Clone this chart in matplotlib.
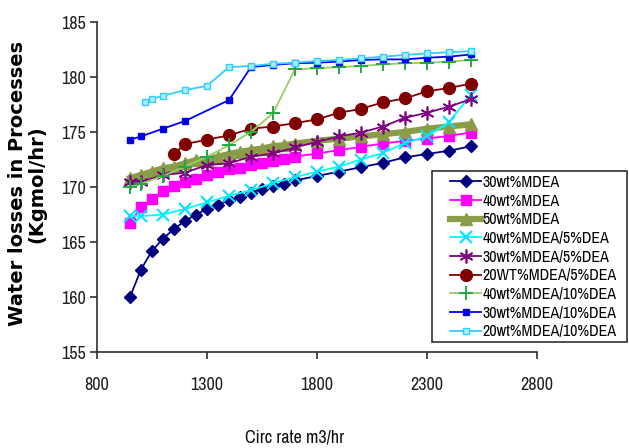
import matplotlib
matplotlib.use("Agg")
import matplotlib.pyplot as plt
from matplotlib.patches import Rectangle

# ---------------- data ----------------
x_full = [950, 1000, 1050, 1100, 1150, 1200, 1250, 1300, 1350, 1400, 1450, 1500,
          1550, 1600, 1650, 1700, 1800, 1900, 2000, 2100, 2200, 2300, 2400, 2500]
x_sparse = [950, 1000, 1100, 1200, 1300, 1400, 1500, 1600, 1700, 1800, 1900,
            2000, 2100, 2200, 2300, 2400, 2500]
x_20wt5 = [1150, 1200, 1300, 1400, 1500, 1600, 1700, 1800, 1900, 2000, 2100,
           2200, 2300, 2400, 2500]
x_30wt10 = [950, 1000, 1100, 1200, 1400, 1500, 1600, 1700, 1800, 1900, 2000,
            2100, 2200, 2300, 2400, 2500]
x_20wt10 = [1020, 1050, 1100, 1200, 1300, 1400, 1500, 1600, 1700, 1800, 1900,
            2000, 2100, 2200, 2300, 2400, 2500]

y_30mdea = [160.0, 162.5, 164.2, 165.3, 166.2, 166.9, 167.5, 168.0, 168.4, 168.8,
            169.1, 169.5, 169.8, 170.1, 170.3, 170.6, 171.0, 171.4, 171.8, 172.2,
            172.7, 173.0, 173.3, 173.7]
y_40mdea = [166.7, 168.2, 168.9, 169.6, 170.1, 170.5, 170.7, 171.1, 171.4, 171.6,
            171.75, 172.0, 172.2, 172.4, 172.55, 172.75, 173.05, 173.35, 173.65,
            173.95, 174.2, 174.4, 174.65, 174.95]
y_50mdea = [170.8, 171.1, 171.4, 171.7, 171.85, 172.15, 172.45, 172.5, 172.75, 173.0,
            173.2, 173.35, 173.5, 173.7, 173.8, 173.95, 174.2, 174.4, 174.6, 174.8,
            175.0, 175.3, 175.5, 175.7]
y_40mdea5dea = [167.4, 167.35, 167.5, 168.0, 168.6, 169.2, 169.7, 170.35, 170.9,
                171.4, 171.85, 172.5, 173.1, 174.0, 174.6, 175.9, 178.4]
y_30mdea5dea = [170.5, 170.45, 171.1, 171.3, 172.0, 172.15, 172.75, 173.05, 173.6,
                174.1, 174.6, 174.95, 175.5, 176.3, 176.75, 177.3, 178.0]
y_20mdea5dea = [173.0, 173.9, 174.3, 174.7, 175.3, 175.5, 175.8, 176.15, 176.75,
                177.1, 177.7, 178.05, 178.7, 179.0, 179.4]
y_40mdea10dea = [170.0, 170.3, 171.0, 171.85, 172.75, 173.8, 175.0, 176.7, 180.7,
                 180.8, 180.9, 181.0, 181.15, 181.25, 181.3, 181.4, 181.55]
y_30mdea10dea = [174.3, 174.6, 175.3, 176.0, 177.9, 180.9, 181.1, 181.25, 181.3,
                 181.4, 181.55, 181.6, 181.6, 181.75, 181.85, 182.05]
y_20mdea10dea = [177.75, 178.0, 178.3, 178.8, 179.2, 180.9, 181.0, 181.2, 181.3,
                 181.45, 181.55, 181.7, 181.85, 182.0, 182.15, 182.25, 182.35]

labels = ["30wt%MDEA", "40wt%MDEA", "50wt%MDEA", "40wt%MDEA/5%DEA",
          "30wt%MDEA/5%DEA", "20WT%MDEA/5%DEA", "40wt%MDEA/10%DEA",
          "30wt%MDEA/10%DEA", "20wt%MDEA/10%DEA"]
x_ticks = [800, 1300, 1800, 2300, 2800]
y_ticks = [155, 160, 165, 170, 175, 180, 185]

NARROW = ["Archivo Narrow", "Liberation Sans", "DejaVu Sans"]

# ---------------- figure ----------------
W, H = 629, 448
fig = plt.figure(figsize=(W / 100, H / 100), dpi=100)
ax = fig.add_axes([97 / W, 1 - 352 / H, 440 / W, 330 / H])

series = [
    (x_full, y_30mdea, dict(color="#000080", lw=1.3, marker="D", ms=6.5,
                            mfc="#000080", mec="#000080")),
    (x_full, y_40mdea, dict(color="#FF00FF", lw=1.3, marker="s", ms=7.5,
                            mfc="#FF00FF", mec="#FF00FF")),
    (x_full, y_50mdea, dict(color="#8A9C48", lw=4.5, marker="^", ms=9,
                            mfc="#8A9C48", mec="#8A9C48")),
    (x_sparse, y_40mdea5dea, dict(color="#00FFFF", lw=1.3, marker="x", ms=8,
                                  mew=1.5, mec="#00E5FF")),
    (x_sparse, y_30mdea5dea, dict(color="#800080", lw=1.3, marker=(6, 2, 0), ms=10,
                                  mew=1.2, mec="#800080")),
    (x_20wt5, y_20mdea5dea, dict(color="#800000", lw=1.3, marker="o", ms=8.5,
                                 mfc="#800000", mec="#800000")),
    (x_sparse, y_40mdea10dea, dict(color="#99CC66", lw=1.3, marker="+", ms=10,
                                   mew=1.4, mec="#22AA44")),
    (x_30wt10, y_30mdea10dea, dict(color="#0000FF", lw=1.3, marker="s", ms=4,
                                   mfc="#0000CC", mec="#0000FF")),
    (x_20wt10, y_20mdea10dea, dict(color="#33CCFF", lw=1.3, marker="s", ms=5,
                                   mfc="#AAEEFF", mec="#33CCFF")),
]
handles = []
for (xs, ys, kw), lab in zip(series, labels):
    h, = ax.plot(xs, ys, label=lab, **kw)
    handles.append(h)

ax.set_xlim(800, 2800)
ax.set_ylim(155, 185)
ax.set_xticks(x_ticks)
ax.set_yticks(y_ticks)
for s in ["top", "right"]:
    ax.spines[s].set_visible(False)
for s in ["left", "bottom"]:
    ax.spines[s].set_color("#303030")
    ax.spines[s].set_linewidth(1.2)
ax.tick_params(axis="both", direction="out", length=5, width=1.2, color="#303030")
ax.tick_params(axis="x", pad=13)
ax.tick_params(axis="y", pad=3)
for lab in ax.get_xticklabels() + ax.get_yticklabels():
    lab.set_fontfamily(NARROW)
    lab.set_fontsize(13)
    lab.set_color("#202020")

ax.set_xlabel("Circ rate m3/hr", fontsize=13, family=NARROW, color="#101010")
ax.xaxis.set_label_coords(0.45, -0.235)
ax.set_ylabel("Water losses in Processes\n(Kgmol/hr)", fontsize=14,
              fontweight="bold", family=["DejaVu Sans"], linespacing=1.05)
ax.yaxis.set_label_coords(-0.115, 0.51)

# legend
leg = fig.legend(handles=handles, labels=labels, loc="upper left",
                 bbox_to_anchor=(450 / W, 1 - 175 / H),
                 frameon=False, borderpad=0, borderaxespad=0,
                 handlelength=1.95, handletextpad=0.1, labelspacing=0.23,
                 numpoints=1, prop=dict(family=NARROW, size=11.5))
fig.patches.append(Rectangle((432 / W, 1 - 342 / H), 195 / W, 171 / H,
                             transform=fig.transFigure, fill=False,
                             edgecolor="#202020", linewidth=1.1))

fig.savefig("out.png", dpi=100)
